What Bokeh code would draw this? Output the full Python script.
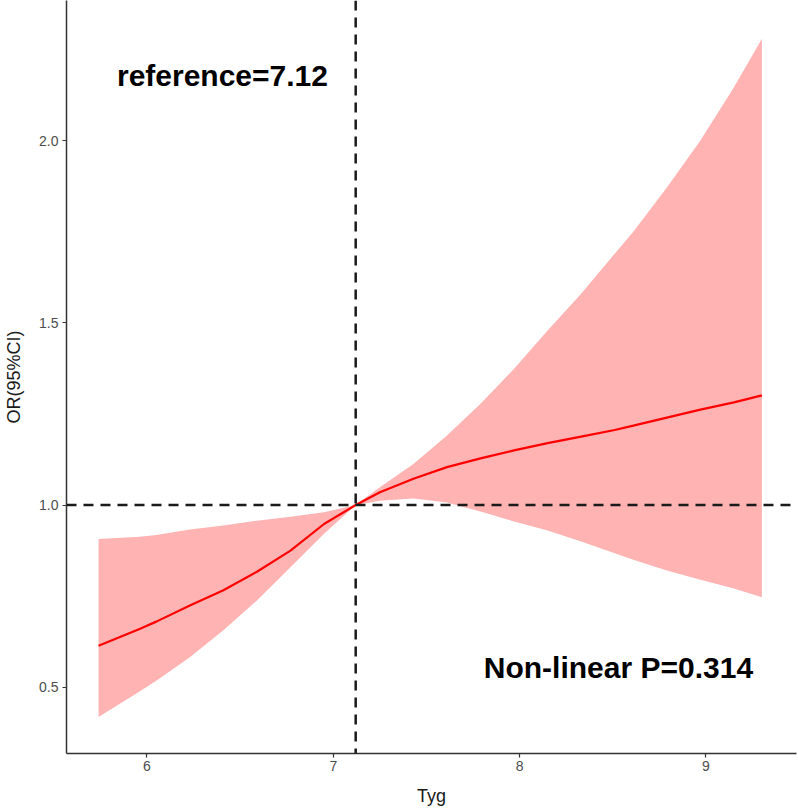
from bokeh.plotting import figure
from bokeh.models import Span, Label, FixedTicker, NumeralTickFormatter, Range1d
from bokeh.embed import file_html
from bokeh.resources import INLINE

# Data
tyg = [5.74, 5.96, 6.05, 6.23, 6.41, 6.59, 6.77, 6.95, 7.12, 7.25, 7.43, 7.61,
       7.79, 7.97, 8.15, 8.33, 8.51, 8.61, 8.79, 8.97, 9.15, 9.30]
or_est = [0.614, 0.660, 0.680, 0.724, 0.766, 0.817, 0.875, 0.948, 1.000, 1.035,
          1.072, 1.104, 1.128, 1.150, 1.170, 1.188, 1.206, 1.218, 1.240, 1.262,
          1.282, 1.301]
or_lower = [0.418, 0.488, 0.518, 0.582, 0.656, 0.738, 0.829, 0.921, 1.000, 1.012,
            1.018, 1.007, 0.982, 0.955, 0.930, 0.900, 0.868, 0.850, 0.820, 0.795,
            0.771, 0.747]
or_upper = [0.907, 0.913, 0.918, 0.933, 0.944, 0.957, 0.968, 0.980, 1.000, 1.049,
            1.113, 1.191, 1.278, 1.374, 1.479, 1.580, 1.690, 1.750, 1.872, 2.001,
            2.147, 2.280]
reference_x = 7.12
reference_y = 1.0
x_ticks = [6, 7, 8, 9]
y_ticks = [0.5, 1.0, 1.5, 2.0]
ref_text = "reference=7.12"
p_text = "Non-linear P=0.314"

p = figure(width=798, height=812, output_backend="svg", toolbar_location=None,
           x_range=Range1d(5.568, 9.4857), y_range=Range1d(0.318, 2.385),
           min_border_left=66, min_border_right=2, min_border_top=0, min_border_bottom=59)
p.outline_line_color = None
p.grid.visible = False
p.background_fill_color = "white"
p.border_fill_color = "white"

p.varea(x=tyg, y1=or_lower, y2=or_upper, fill_color="#FFB3B3", fill_alpha=1.0)
p.line(tyg, or_est, line_color="#FF0000", line_width=2.2)

p.add_layout(Span(location=reference_x, dimension="height", line_color="#1a1a1a",
                  line_width=2.5, line_dash="10 7"))
p.add_layout(Span(location=reference_y, dimension="width", line_color="#1a1a1a",
                  line_width=2.5, line_dash="10 7"))

p.add_layout(Label(x=6.405, y=2.18, text=ref_text, text_font="Liberation Sans",
                   text_font_style="bold", text_font_size="30px", text_color="black",
                   text_align="center", text_baseline="middle"))
p.add_layout(Label(x=8.53, y=0.554, text=p_text, text_font="Liberation Sans",
                   text_font_style="bold", text_font_size="30px", text_color="black",
                   text_align="center", text_baseline="middle"))

for ax in (p.xaxis[0], p.yaxis[0]):
    ax.axis_line_color = "#333333"
    ax.axis_line_width = 1.5
    ax.major_tick_line_color = "#333333"
    ax.major_tick_line_width = 1.2
    ax.major_tick_out = 4
    ax.major_tick_in = 0
    ax.minor_tick_line_color = None
    ax.major_label_text_font = "Liberation Sans"
    ax.major_label_text_font_size = "14px"
    ax.major_label_text_color = "#4D4D4D"
    ax.axis_label_text_font = "Liberation Sans"
    ax.axis_label_text_font_size = "18px"
    ax.axis_label_text_font_style = "normal"
    ax.axis_label_text_color = "#1a1a1a"

p.xaxis.ticker = FixedTicker(ticks=x_ticks)
p.yaxis.ticker = FixedTicker(ticks=y_ticks)
p.yaxis.formatter = NumeralTickFormatter(format="0.0")
p.xaxis.axis_label = "Tyg"
p.yaxis.axis_label = "OR(95%CI)"
p.xaxis.major_label_standoff = 3
p.yaxis.major_label_standoff = 4
p.xaxis.axis_label_standoff = 12
p.yaxis.axis_label_standoff = 12

open("out.html", "w").write(file_html(p, INLINE))
